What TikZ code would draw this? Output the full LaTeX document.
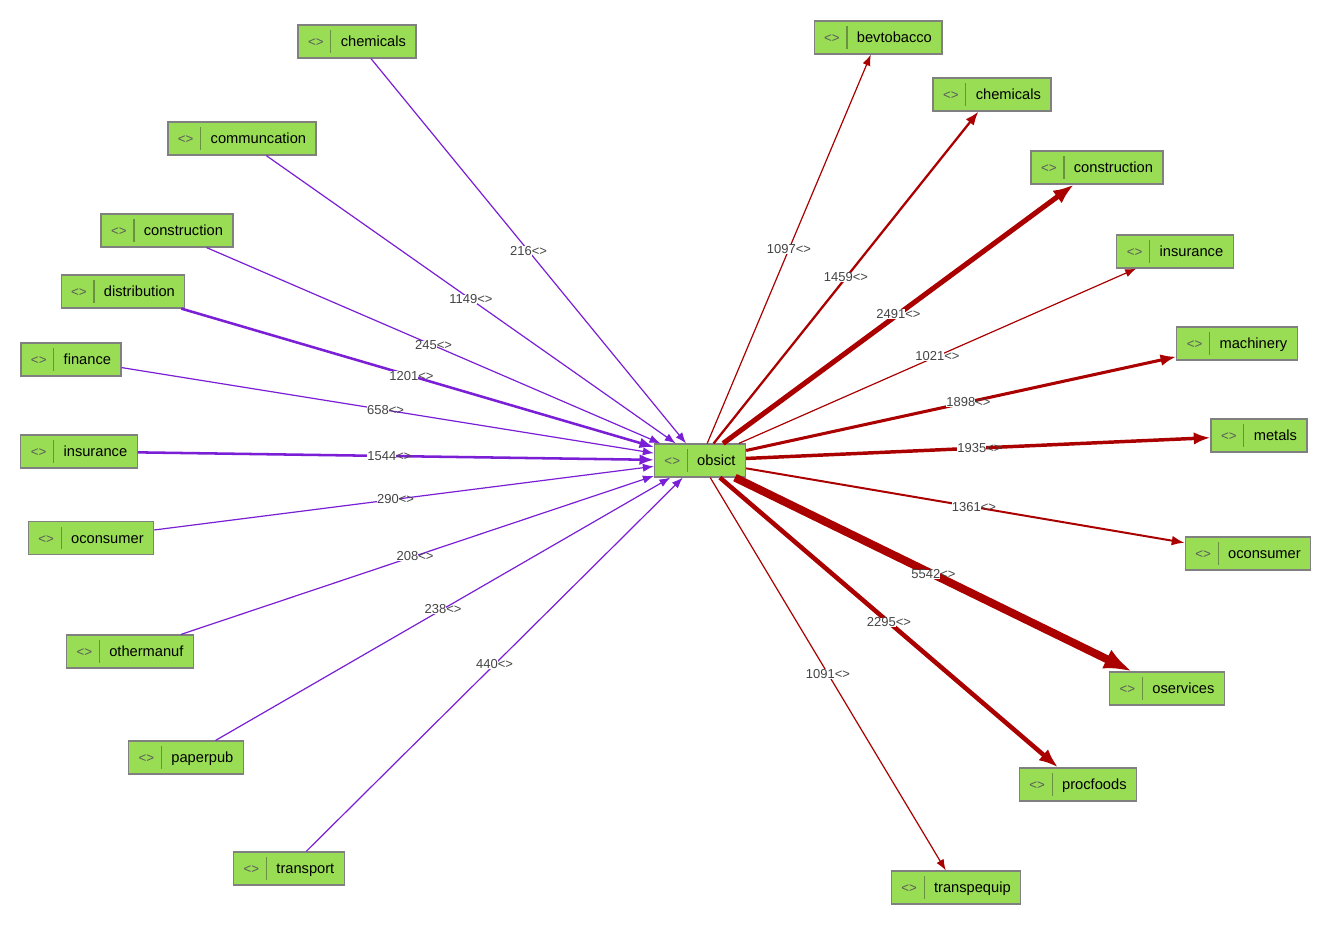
\documentclass[tikz,border=0pt]{standalone}
\usepackage{fontspec}
\setmainfont{Liberation Sans}
\usetikzlibrary{arrows.meta,calc}
\definecolor{nodegreen}{RGB}{153,221,85}
\definecolor{nodeborder}{RGB}{128,128,128}
\definecolor{icongray}{RGB}{90,90,90}
\definecolor{divgray}{RGB}{105,145,65}
\definecolor{purp}{RGB}{122,31,214}
\definecolor{redd}{RGB}{170,0,0}
\definecolor{lblgray}{RGB}{68,68,68}
\newcommand\nd[1]{{\color{icongray}\fontsize{10}{10}\selectfont<>}\hspace{5pt}{\color{divgray}\vrule width 0.9pt height 12.5pt depth 4.5pt}\hspace{7pt}#1}
\newcommand\lb[1]{{\fboxsep=0pt\colorbox{white}{#1}}<>}
\tikzset{
  box/.style={draw=nodeborder, line width=0.9pt, fill=nodegreen, rectangle, inner xsep=7.5pt, inner ysep=0pt, minimum height=24.75pt, font=\fontsize{11}{11}\selectfont},
  lbl/.style={inner sep=0pt, text=lblgray, font=\fontsize{9.75}{10}\selectfont},
  pe/.style={draw=purp, -{Latex[length=6pt 2.5]}},
  re/.style={draw=redd, -{Latex[length=6pt 2.5]}},
}
\begin{document}
\begin{tikzpicture}[x=0.75pt,y=-0.75pt]
\useasboundingbox[fill=white] (0,0) rectangle (1334,926);
% center
\node[box] (C) at (700,460.5) {\nd{obsict}};
% left nodes
\node[box] (L1) at (357,41.5) {\nd{chemicals}};
\node[box] (L2) at (242,138.5) {\nd{communcation}};
\node[box] (L3) at (167,230.5) {\nd{construction}};
\node[box] (L4) at (123,291.5) {\nd{distribution}};
\node[box] (L5) at (71,359.5) {\nd{finance}};
\node[box] (L6) at (79,451.5) {\nd{insurance}};
\node[box] (L7) at (91,538) {\nd{oconsumer}};
\node[box] (L8) at (130,651.5) {\nd{othermanuf}};
\node[box] (L9) at (186,757.5) {\nd{paperpub}};
\node[box] (L10) at (289,868.5) {\nd{transport}};
% right nodes
\node[box] (R1) at (878,37.5) {\nd{bevtobacco}};
\node[box] (R2) at (992,94.5) {\nd{chemicals}};
\node[box] (R3) at (1097,167.5) {\nd{construction}};
\node[box] (R4) at (1175,251.5) {\nd{insurance}};
\node[box] (R5) at (1237,343.5) {\nd{machinery}};
\node[box] (R6) at (1259,435.5) {\nd{metals}};
\node[box] (R7) at (1248,553.5) {\nd{oconsumer}};
\node[box] (R8) at (1167,688.5) {\nd{oservices}};
\node[box] (R9) at (1078,784.5) {\nd{procfoods}};
\node[box] (R10) at (956,887.5) {\nd{transpequip}};
% purple edges
\draw[pe, line width=0.9pt] (L1) -- (C);
\draw[pe, line width=0.9pt] (L2) -- (C);
\draw[pe, line width=0.9pt] (L3) -- (C);
\draw[pe, line width=1.9pt] (L4) -- (C);
\draw[pe, line width=0.9pt] (L5) -- (C);
\draw[pe, line width=1.9pt] (L6) -- (C);
\draw[pe, line width=0.9pt] (L7) -- (C);
\draw[pe, line width=0.9pt] (L8) -- (C);
\draw[pe, line width=0.9pt] (L9) -- (C);
\draw[pe, line width=0.9pt] (L10) -- (C);
% red edges
\draw[re, line width=0.9pt] (C) -- (R1);
\draw[re, line width=1.7pt] (C) -- (R2);
\draw[re, line width=3.8pt] (C) -- (R3);
\draw[re, line width=0.9pt] (C) -- (R4);
\draw[re, line width=2.3pt] (C) -- (R5);
\draw[re, line width=2.6pt] (C) -- (R6);
\draw[re, line width=1.5pt] (C) -- (R7);
\draw[re, line width=6pt] (C) -- (R8);
\draw[re, line width=3.4pt] (C) -- (R9);
\draw[re, line width=0.9pt] (C) -- (R10);
% labels
\node[lbl] (t1) at ($(L1)!0.5!(C)$) {\lb{216}};
\node[lbl] (t2) at ($(L2)!0.5!(C)$) {\lb{1149}};
\node[lbl] (t3) at ($(L3)!0.5!(C)$) {\lb{245}};
\node[lbl] (t4) at ($(L4)!0.5!(C)$) {\lb{1201}};
\node[lbl] (t5) at ($(L5)!0.5!(C)$) {\lb{658}};
\node[lbl] (t6) at ($(L6)!0.5!(C)$) {\lb{1544}};
\node[lbl] (t7) at ($(L7)!0.5!(C)$) {\lb{290}};
\node[lbl] (t8) at ($(L8)!0.5!(C)$) {\lb{208}};
\node[lbl] (t9) at ($(L9)!0.5!(C)$) {\lb{238}};
\node[lbl] (t10) at ($(L10)!0.5!(C)$) {\lb{440}};
\node[lbl] (u1) at ($(R1)!0.5!(C)$) {\lb{1097}};
\node[lbl] (u2) at ($(R2)!0.5!(C)$) {\lb{1459}};
\node[lbl] (u3) at ($(R3)!0.5!(C)$) {\lb{2491}};
\node[lbl] (u4) at ($(R4)!0.5!(C)$) {\lb{1021}};
\node[lbl] (u5) at ($(R5)!0.5!(C)$) {\lb{1898}};
\node[lbl] (u6) at ($(R6)!0.5!(C)$) {\lb{1935}};
\node[lbl] (u7) at ($(R7)!0.5!(C)$) {\lb{1361}};
\node[lbl] (u8) at ($(R8)!0.5!(C)$) {\lb{5542}};
\node[lbl] (u9) at ($(R9)!0.5!(C)$) {\lb{2295}};
\node[lbl] (u10) at ($(R10)!0.5!(C)$) {\lb{1091}};
\end{tikzpicture}
\end{document}
